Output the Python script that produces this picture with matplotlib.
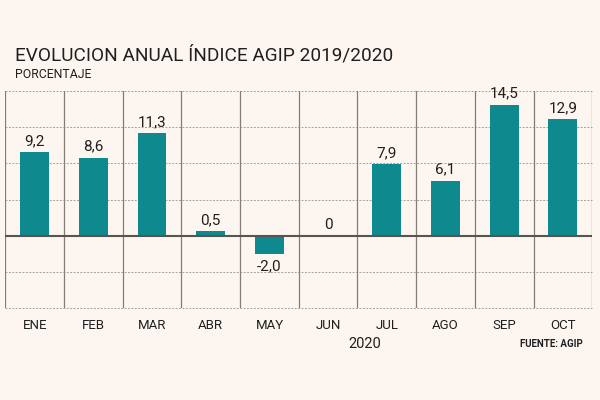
import matplotlib
matplotlib.use("Agg")
import matplotlib.pyplot as plt

months = ["ENE", "FEB", "MAR", "ABR", "MAY", "JUN", "JUL", "AGO", "SEP", "OCT"]
values = [9.2, 8.6, 11.3, 0.5, -2.0, 0.0, 7.9, 6.1, 14.5, 12.9]
labels = ["9,2", "8,6", "11,3", "0,5", "-2,0", "0", "7,9", "6,1", "14,5", "12,9"]
yticks = [-8, -4, 0, 4, 8, 12, 16]

FONT = ["Liberation Sans Narrow", "Roboto", "DejaVu Sans"]
plt.rcParams["font.family"] = FONT

BG = "#fdf6f0"
BAR = "#0e8a8e"
TXT = "#1f1f1f"

fig = plt.figure(figsize=(6, 4), dpi=100, facecolor=BG)
ax = fig.add_axes([0.009, 0.23, 0.978, 0.5425])
ax.set_facecolor(BG)

x = list(range(len(months)))
ax.bar(x, values, width=0.49, color=BAR, zorder=3)
ax.set_xlim(-0.5, len(months) - 0.5)
ax.set_ylim(yticks[0], yticks[-1])

for yv in yticks:
    if yv == 0:
        ax.axhline(0, color="#5a5450", lw=1.5, zorder=4)
    else:
        ax.axhline(yv, color="#a8a09a", lw=0.7, ls=(0, (2, 1.5)), zorder=1,
                   clip_on=False)
for i in range(len(months) + 1):
    ax.axvline(i - 0.5, color="#857c76", lw=0.9, zorder=2)

for xi, v, lab in zip(x, values, labels):
    if v < 0:
        ax.annotate(lab, (xi, v), xytext=(0, -4), textcoords="offset points",
                    ha="center", va="top", fontsize=11, color=TXT)
    else:
        ax.annotate(lab, (xi, v), xytext=(0, 3), textcoords="offset points",
                    ha="center", va="bottom", fontsize=11, color=TXT)

ax.set_xticks(x)
ax.set_xticklabels(months, fontsize=9.5, color=TXT)
ax.tick_params(axis="x", length=0, pad=8)
ax.set_yticks([])
for s in ax.spines.values():
    s.set_visible(False)

fig.text(0.025, 0.8475, "EVOLUCION ANUAL ÍNDICE AGIP 2019/2020", fontsize=13.7,
         color=TXT, ha="left", va="baseline")
fig.text(0.025, 0.806, "PORCENTAJE", fontsize=8.8, color=TXT, ha="left", va="baseline")
fig.text(0.608, 0.141, "2020", fontsize=10.5, color=TXT, ha="center", va="center")
fig.text(0.972, 0.141, "FUENTE: AGIP", fontsize=7, color=TXT, ha="right",
         va="center", fontweight="bold")

fig.savefig("out.png", dpi=100, facecolor=BG)
